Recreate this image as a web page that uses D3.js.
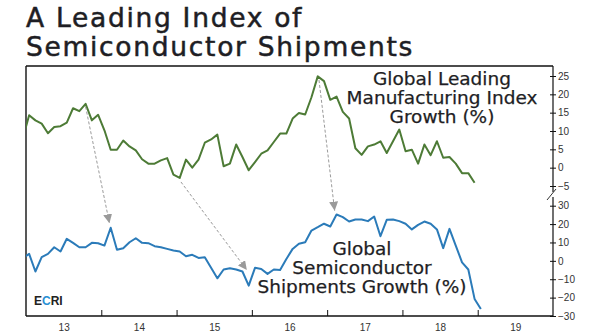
<!DOCTYPE html>
<html><head><meta charset="utf-8">
<script src="https://cdn.jsdelivr.net/npm/d3@7"></script>
<style>
html,body{margin:0;padding:0;background:#fff;}
svg{display:block;}
</style></head><body>
<svg id="chart" width="600" height="335"></svg>
<script>
// ---------- data (monthly, first value = Dec 2012) ----------
const firstMonth = -1; // month index relative to Jan 2013
const leadingIndex = [8, 14.3, 12.9, 12.0, 9.4, 11.1, 11.3, 12.3, 16.2, 15.4, 17.4, 12.9, 14.4,
  10.2, 4.9, 4.9, 7.4, 5.8, 4.7, 2.3, 1.1, 1.1, 2.0, 2.6, -1.9,
  -2.8, 2.2, 0, 2.2, 6.8, 7.7, 9.0, 0.4, 1.1, 6.3, 2.9, -0.7,
  1.5, 3.8, 4.7, 7.0, 9.3, 9.3, 13.4, 14.9, 14.5, 19.2, 24.9, 23.6,
  18.5, 19.4, 15.2, 13.4, 5.3, 3.5, 5.8, 6.3, 7.2, 4.0, 7.2, 10.4,
  4.5, 4.9, 1.1, 6.3, 3.4, 7.2, 2.7, 2.9, 1.1, -1.5, -1.5, -4.1];
const semiShipments = [1.5, 3.8, -5.8, 2, 3.8, 7.4, 5.1, 12, 9.8, 7.4, 7.4, 9.8, 9.6,
  8.3, 18, 6, 6.9, 10.1, 12.3, 9.8, 9.6, 8, 7.4, 6.5, 5.6,
  5.1, 2.5, 3.3, 1.6, 2, -3.8, -9.5, -4.7, -4, -4.7, -5.8, -13.5,
  -3.8, -4.4, -7.1, -4.7, -5, 1, 6.5, 9.3, 10.1, 16.5, 18.3, 20.2,
  18.7, 25.2, 23.8, 21.4, 22.5, 22.5, 21.6, 24.1, 13.4, 22.3, 22.5, 21.6,
  20.2, 17.1, 19.6, 21.4, 20.2, 17.1, 6.9, 17.4, 8.3, -0.8, -4.7, -20.7,
  -26.2];
const yearBoundaries = [2014, 2015, 2016, 2017, 2018, 2019];
const yearMids = [2013.5, 2014.5, 2015.5, 2016.5, 2017.5, 2018.5, 2019.5];
const yearLabels = ["13", "14", "15", "16", "17", "18", "19"];
const leadingTicks = [25, 20, 15, 10, 5, 0, -5];
const shipTicks = [30, 20, 10, 0, -10, -20, -30];
const titleLines = ["A Leading Index of", "Semiconductor Shipments"];
const leadingLabel = ["Global Leading", "Manufacturing Index", "Growth (%)"];
const shipLabel = ["Global", "Semiconductor", "Shipments Growth (%)"];
// arrows: from (month, leading value) to (month, shipments value)
const arrowFromMonth = [9.0, 24.2, 46.2];
const arrowFromValue = [16.6, -3.9, 23.9];
const arrowToMonth = [12.8, 34.7, 48.7];
const arrowToValue = [20.5, -5.0, 27.3];

// ---------- layout ----------
const L = 26, R = 553, T = 66, B = 316;
const green = "#4d7b36", blue = "#2b7bb9", ink = "#1e1e24", tickInk = "#333";
const svg = d3.select("#chart");

const x = d3.scaleLinear().domain([2013, 2020]).range([L, R]);
const yG = d3.scaleLinear().domain([-5, 25]).range([186, 76]);
const yB = d3.scaleLinear().domain([-30, 30]).range([B, 205.7]);
const monthToYear = m => 2013 + (m + 0.5) / 12;

svg.append("defs").append("clipPath").attr("id", "clip")
  .append("rect").attr("x", L).attr("y", T - 5).attr("width", R - L).attr("height", B - T + 5);
const marker = svg.select("defs").append("marker").attr("id", "ah")
  .attr("viewBox", "0 0 10 10").attr("refX", 10).attr("refY", 5)
  .attr("markerWidth", 9).attr("markerHeight", 9).attr("markerUnits", "userSpaceOnUse")
  .attr("orient", "auto");
marker.append("path").attr("d", "M0,0 L10,5 L0,10 Z").attr("fill", "#9a9a9a");

// title
const titleFont = "'DejaVu Sans', 'Noto Sans', sans-serif";
svg.append("g").selectAll("text").data(titleLines).join("text")
  .attr("x", L).attr("y", (d, i) => 27 + i * 29)
  .attr("font-family", titleFont)
  .attr("font-size", 26.5).attr("letter-spacing", 1.7).attr("fill", ink)
  .attr("stroke", ink).attr("stroke-width", 0.5)
  .text(d => d);

// frame: top and left
svg.append("line").attr("x1", L).attr("x2", R).attr("y1", T).attr("y2", T).attr("stroke", "#111").attr("stroke-width", 1.4);
svg.append("line").attr("x1", L).attr("x2", L).attr("y1", T).attr("y2", B).attr("stroke", "#111").attr("stroke-width", 1.4);
// right axis line with break
svg.append("line").attr("x1", R).attr("x2", R).attr("y1", T).attr("y2", 192).attr("stroke", "#111").attr("stroke-width", 1.2);
svg.append("line").attr("x1", R).attr("x2", R).attr("y1", 197).attr("y2", B).attr("stroke", "#111").attr("stroke-width", 1.2);
svg.append("line").attr("x1", R - 6).attr("x2", R + 3).attr("y1", 200).attr("y2", 189).attr("stroke", "#333").attr("stroke-width", 1);

// right axes
function styleAxis(g) {
  g.select(".domain").remove();
  g.selectAll(".tick line").attr("stroke", "#111").attr("stroke-width", 1);
  g.selectAll(".tick text").attr("fill", tickInk)
    .attr("font-family", "'Liberation Sans', Arial, sans-serif").attr("font-size", 10);
}
svg.append("g").attr("transform", `translate(${R - 3},0)`)
  .call(d3.axisRight(yG).tickValues(leadingTicks).tickSize(6).tickPadding(2).tickFormat(d3.format("d")))
  .call(styleAxis);
svg.append("g").attr("transform", `translate(${R - 3},0)`)
  .call(d3.axisRight(yB).tickValues(shipTicks).tickSize(6).tickPadding(2).tickFormat(d3.format("d")))
  .call(styleAxis);

// bottom axis
const gx = svg.append("g").attr("transform", `translate(0,${B})`)
  .call(d3.axisBottom(x).tickValues(yearBoundaries).tickSize(-6).tickFormat(""));
gx.select(".domain").attr("stroke", "#111").attr("stroke-width", 1.4).attr("d", `M${L},0H${R}`);
gx.selectAll(".tick line").attr("stroke", "#111");
const gxl = svg.append("g").attr("transform", `translate(0,${B})`)
  .call(d3.axisBottom(x).tickValues(yearMids).tickSize(0).tickPadding(8)
    .tickFormat((d, i) => yearLabels[i]));
gxl.select(".domain").remove();
gxl.selectAll(".tick text").attr("fill", tickInk)
  .attr("font-family", "'Liberation Sans', Arial, sans-serif").attr("font-size", 10);

// lines
const lineG = d3.line().x((d, i) => x(monthToYear(firstMonth + i))).y(d => yG(d));
const lineB = d3.line().x((d, i) => x(monthToYear(firstMonth + i))).y(d => yB(d));
const plot = svg.append("g").attr("clip-path", "url(#clip)");
plot.append("path").datum(leadingIndex).attr("d", lineG)
  .attr("fill", "none").attr("stroke", green).attr("stroke-width", 2).attr("stroke-linejoin", "round");
plot.append("path").datum(semiShipments).attr("d", lineB)
  .attr("fill", "none").attr("stroke", blue).attr("stroke-width", 2).attr("stroke-linejoin", "round");

// arrows
svg.append("g").selectAll("line").data(arrowFromMonth).join("line")
  .attr("x1", (d, i) => x(monthToYear(arrowFromMonth[i])))
  .attr("y1", (d, i) => yG(arrowFromValue[i]))
  .attr("x2", (d, i) => x(monthToYear(arrowToMonth[i])))
  .attr("y2", (d, i) => yB(arrowToValue[i]))
  .attr("stroke", "#9a9a9a").attr("stroke-width", 1).attr("stroke-dasharray", "3,2")
  .attr("marker-end", "url(#ah)");

// series labels
const labelFont = "'DejaVu Sans', 'Noto Sans', sans-serif";
svg.append("g").selectAll("text").data(leadingLabel).join("text")
  .attr("x", 442).attr("y", (d, i) => 85 + i * 19)
  .attr("text-anchor", "middle").attr("font-family", labelFont)
  .attr("font-size", 18.5).attr("fill", ink).attr("stroke", ink).attr("stroke-width", 0.25)
  .text(d => d);
svg.append("g").selectAll("text").data(shipLabel).join("text")
  .attr("x", 362).attr("y", (d, i) => 255 + i * 19)
  .attr("text-anchor", "middle").attr("font-family", labelFont)
  .attr("font-size", 18.5).attr("fill", ink).attr("stroke", ink).attr("stroke-width", 0.25)
  .text(d => d);

// ECRI logo
const logo = svg.append("text").attr("x", 34).attr("y", 305)
  .attr("font-family", "'Liberation Sans', Arial, sans-serif").attr("font-weight", "bold")
  .attr("font-size", 12).attr("fill", "#222");
logo.append("tspan").text("E");
logo.append("tspan").attr("fill", "#2a8fd3").text("C");
logo.append("tspan").text("RI");
</script>
</body></html>
